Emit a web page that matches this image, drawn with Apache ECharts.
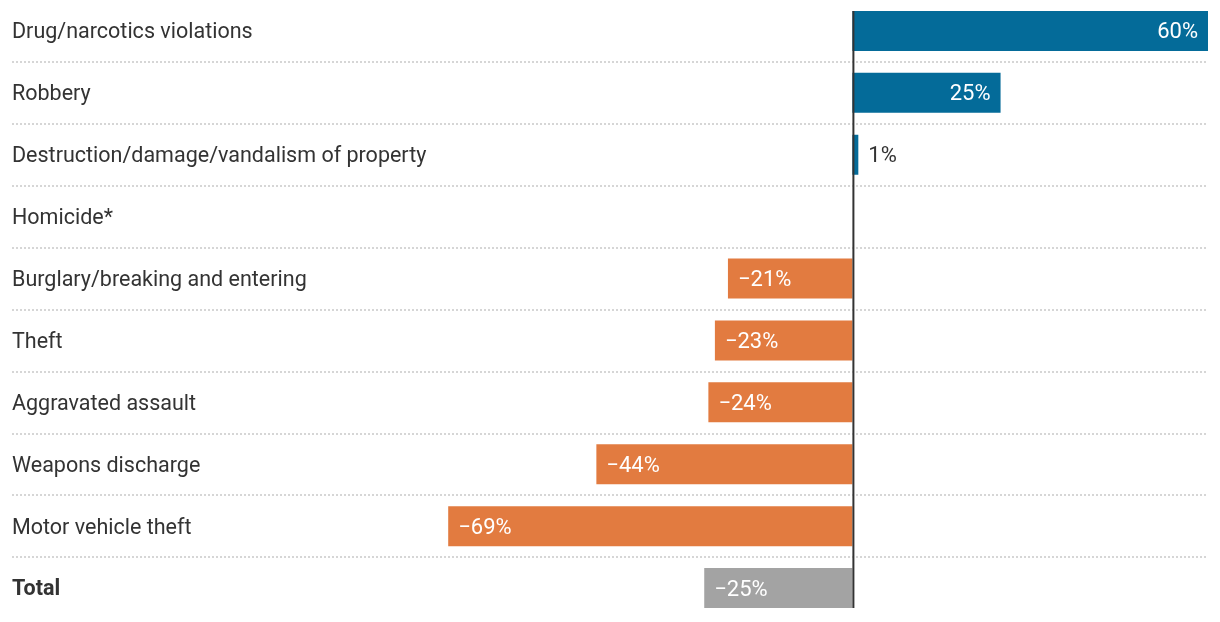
<!DOCTYPE html>
<html>
<head>
<meta charset="utf-8">
<script src="https://cdn.jsdelivr.net/npm/echarts@6/dist/echarts.min.js"></script>
<style>html,body{margin:0;padding:0;background:#fff;}#chart{width:1220px;height:622px;}</style>
</head>
<body>
<div id="chart"></div>
<script>
const categories = [
  'Drug/narcotics violations',
  'Robbery',
  'Destruction/damage/vandalism of property',
  'Homicide*',
  'Burglary/breaking and entering',
  'Theft',
  'Aggravated assault',
  'Weapons discharge',
  'Motor vehicle theft',
  'Total'
];
// bar lengths (percent change)
const values = [60, 25, 1, null, -21, -23.2, -24.3, -43.2, -68.2, -25];
// printed value labels
const valueLabels = ['60%', '25%', '1%', '', '\u221221%', '\u221223%', '\u221224%', '\u221244%', '\u221269%', '\u221225%'];
const totalCategory = 'Total';

const BLUE = '#046b99', ORANGE = '#e27b40', GRAY = '#a3a3a3';

const barData = values.map((v, i) => {
  if (v === null) return null;
  const isTotal = categories[i] === totalCategory;
  const color = isTotal ? GRAY : (v >= 0 ? BLUE : ORANGE);
  const small = Math.abs(v) < 5;
  return {
    value: v,
    itemStyle: { color },
    label: {
      show: true,
      position: small ? 'right' : (v >= 0 ? 'insideRight' : 'insideLeft'),
      distance: 10,
      offset: [0, 2],
      color: small ? '#333' : '#fff',
      fontSize: 22,
      fontFamily: 'Roboto',
      formatter: () => valueLabels[i]
    }
  };
});

const chart = echarts.init(document.getElementById('chart'), null, { renderer: 'canvas' });
chart.setOption({
  animation: false,
  grid: { left: 12, right: 12, top: -1, height: 620 },
  xAxis: {
    type: 'value', min: -141.8, max: 60, show: false,
    splitLine: { show: false }
  },
  yAxis: {
    type: 'category', data: categories, inverse: true,
    axisLine: { show: false }, axisTick: { show: false },
    axisLabel: {
      inside: true, margin: 0, color: '#333', fontSize: 21.5, fontFamily: 'Roboto',
      padding: [4, 0, 0, 0],
      formatter: v => v === totalCategory ? '{b|' + v + '}' : v,
      rich: { b: { fontWeight: 'bold', fontSize: 21.5, fontFamily: 'Roboto', color: '#333' } }
    },
    splitLine: {
      show: true, showMinLine: false, showMaxLine: false,
      lineStyle: { color: '#d6d6d6', width: 2, type: [2, 2] }
    }
  },
  series: [
    { type: 'bar', data: barData, barWidth: 40, z: 2 },
    {
      type: 'custom', z: 5, data: [[0]],
      renderItem: (params, api) => {
        const top = api.coord([0, 0]);
        const bot = api.coord([0, categories.length - 1]);
        return {
          type: 'line',
          shape: { x1: top[0] + 1, y1: top[1] - 20, x2: top[0] + 1, y2: bot[1] + 20 },
          style: { stroke: '#333', lineWidth: 2 }
        };
      }
    }
  ]
});
</script>
</body>
</html>
